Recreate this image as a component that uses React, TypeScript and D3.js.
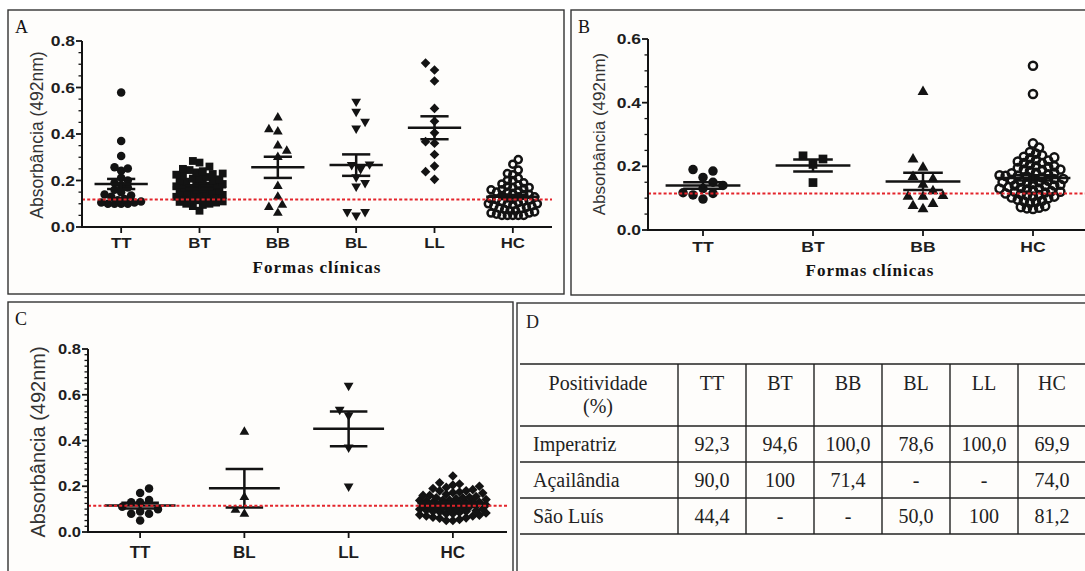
import * as d3 from 'd3'

// ---- Panel A: Formas clínicas (Imperatriz) ----
const catsA = ['TT', 'BT', 'BB', 'BL', 'LL', 'HC']
const shapesA = ['circle', 'square', 'triangle', 'triangleDown', 'diamond', 'ring']
const aTT = [0.578, 0.37, 0.305, 0.257, 0.242, 0.252, 0.212, 0.2, 0.19, 0.18, 0.17, 0.16, 0.15, 0.14, 0.135, 0.13, 0.12, 0.115, 0.11, 0.105, 0.1, 0.1, 0.1, 0.1, 0.105]
const aBT = [0.284, 0.277, 0.26, 0.25, 0.245, 0.24, 0.235, 0.23, 0.228, 0.225, 0.22, 0.215, 0.21, 0.208, 0.205, 0.2, 0.198, 0.195, 0.19, 0.188, 0.185, 0.18, 0.178, 0.175, 0.17, 0.168, 0.165, 0.16, 0.158, 0.155, 0.15, 0.148, 0.145, 0.14, 0.14, 0.138, 0.135, 0.13, 0.128, 0.125, 0.12, 0.118, 0.115, 0.11, 0.108, 0.105, 0.1, 0.1, 0.095, 0.09, 0.07]
const aBB = [0.47, 0.42, 0.41, 0.35, 0.327, 0.3, 0.176, 0.13, 0.095, 0.085, 0.06]
const aBL = [0.54, 0.496, 0.453, 0.424, 0.27, 0.267, 0.25, 0.215, 0.19, 0.175, 0.065, 0.05, 0.065]
const aLL = [0.705, 0.675, 0.628, 0.51, 0.455, 0.405, 0.367, 0.36, 0.312, 0.262, 0.238, 0.205]
const aHC = [0.29, 0.27, 0.245, 0.23, 0.225, 0.21, 0.2, 0.2, 0.19, 0.185, 0.18, 0.175, 0.17, 0.17, 0.165, 0.16, 0.16, 0.155, 0.15, 0.15, 0.145, 0.14, 0.14, 0.135, 0.13, 0.13, 0.125, 0.12, 0.12, 0.12, 0.115, 0.11, 0.11, 0.105, 0.1, 0.1, 0.1, 0.095, 0.09, 0.09, 0.085, 0.08, 0.08, 0.075, 0.07, 0.07, 0.065, 0.06, 0.06, 0.055, 0.05, 0.05, 0.05, 0.05, 0.05]

// ---- Panel B ----
const catsB = ['TT', 'BT', 'BB', 'HC']
const shapesB = ['circle', 'square', 'triangle', 'ring']
const bTT = [0.19, 0.185, 0.165, 0.15, 0.14, 0.13, 0.115, 0.11, 0.117, 0.097]
const bBT = [0.233, 0.223, 0.206, 0.149]
const bBB = [0.434, 0.222, 0.196, 0.167, 0.16, 0.143, 0.122, 0.105, 0.107, 0.105, 0.082, 0.076, 0.066]
const bHC = [0.516, 0.427, 0.272, 0.259, 0.245, 0.24, 0.235, 0.23, 0.228, 0.225, 0.22, 0.218, 0.215, 0.21, 0.21, 0.205, 0.2, 0.2, 0.198, 0.195, 0.19, 0.19, 0.188, 0.185, 0.18, 0.18, 0.178, 0.175, 0.172, 0.17, 0.17, 0.168, 0.165, 0.162, 0.16, 0.16, 0.158, 0.155, 0.152, 0.15, 0.15, 0.148, 0.145, 0.142, 0.14, 0.14, 0.138, 0.135, 0.132, 0.13, 0.13, 0.128, 0.125, 0.122, 0.12, 0.12, 0.118, 0.115, 0.112, 0.11, 0.108, 0.105, 0.105, 0.102, 0.1, 0.095, 0.092, 0.09, 0.088, 0.085, 0.075, 0.072, 0.07, 0.068, 0.066]

// ---- Panel C ----
const catsC = ['TT', 'BL', 'LL', 'HC']
const shapesC = ['circle', 'triangle', 'triangleDown', 'diamond']
const cTT = [0.19, 0.17, 0.14, 0.13, 0.13, 0.11, 0.1, 0.09, 0.08, 0.08, 0.05]
const cBL = [0.438, 0.152, 0.079, 0.096]
const cLL = [0.64, 0.535, 0.51, 0.37, 0.2]
const cHC = [0.245, 0.215, 0.21, 0.205, 0.2, 0.195, 0.19, 0.185, 0.18, 0.18, 0.175, 0.172, 0.17, 0.165, 0.16, 0.16, 0.155, 0.152, 0.15, 0.15, 0.145, 0.142, 0.14, 0.14, 0.138, 0.135, 0.132, 0.13, 0.13, 0.128, 0.125, 0.122, 0.12, 0.12, 0.118, 0.115, 0.113, 0.112, 0.11, 0.11, 0.108, 0.105, 0.103, 0.1, 0.1, 0.098, 0.095, 0.093, 0.09, 0.09, 0.088, 0.085, 0.083, 0.08, 0.08, 0.075, 0.073, 0.07, 0.07, 0.065, 0.062, 0.06, 0.055, 0.05, 0.05]

// cut-off (dotted red line)
const cutoffs = [0.118, 0.115, 0.115]

// ---- Panel D table ----
const tableHeader = ['Positividade', '(%)']
const tableCols = ['TT', 'BT', 'BB', 'BL', 'LL', 'HC']
const tableRows = ['Imperatriz', 'Açailândia', 'São Luís']
const tableValues = [
  ['92,3', '94,6', '100,0', '78,6', '100,0', '69,9'],
  ['90,0', '100', '71,4', '-', '-', '74,0'],
  ['44,4', '-', '-', '50,0', '100', '81,2']
]

const SANS = '"Liberation Sans", Arial, sans-serif'
const SERIF = '"Liberation Serif", "Times New Roman", serif'
const INK = '#131313'

// Prism-like column scatter: pack points sideways, overlap once the column is full
function swarm(values: number[], y: (v: number) => number, cx: number, d: number, maxHalf: number) {
  const pts = values.map(v => ({ v, py: y(v), dx: 0 })).sort((a, b) => a.v - b.v)
  const placed: { v: number; py: number; dx: number }[] = []
  const step = d / 2
  pts.forEach((p, i) => {
    let best = 0
    let bestScore = -1
    const signs = i % 2 ? [-1, 1] : [1, -1]
    outer: for (let k = 0; k * step <= maxHalf; k++) {
      for (const s of k === 0 ? [1] : signs) {
        const dx = s * k * step
        let minD = Infinity
        for (const q of placed) {
          const dd = Math.hypot(q.dx - dx, q.py - p.py)
          if (dd < minD) minD = dd
        }
        if (minD >= d) { best = dx; break outer }
        if (minD > bestScore) { bestScore = minD; best = dx }
      }
    }
    placed.push({ ...p, dx: best })
  })
  return placed.map(p => ({ x: cx + p.dx, y: p.py }))
}

function Marker({ shape, x, y, m }: { shape: string; x: number; y: number; m: number }) {
  if (shape === 'ring') {
    return <circle cx={x} cy={y} r={m / 2 - 0.7} fill="none" stroke={INK} strokeWidth={2.5} />
  }
  let type: any = d3.symbolCircle
  let area = Math.PI * (m / 2) ** 2
  let rot = 0
  if (shape === 'square') { type = d3.symbolSquare; area = (0.92 * m) ** 2 }
  if (shape === 'triangle' || shape === 'triangleDown') {
    type = d3.symbolTriangle
    area = 0.433 * (1.15 * m) ** 2
    if (shape === 'triangleDown') rot = 180
  }
  if (shape === 'diamond') { type = d3.symbolSquare; area = (0.8 * m) ** 2; rot = 45 }
  return <path d={d3.symbol(type, area)() || ''} transform={`translate(${x},${y}) rotate(${rot})`} fill={INK} />
}

interface PanelProps {
  box: [number, number, number, number]
  letter: string
  cats: string[]
  groups: number[][]
  shapes: string[]
  xRange: [number, number]
  axisEnd: number
  yMax: number
  yRange: [number, number]
  minorStep: number
  cutoff: number
  m: number
  tickFont: number
  tickSX: number
  catFont: number
  catSX: number
  catDy: number
  yLabel: [number, number, number]
  title?: number
}

function Panel(p: PanelProps) {
  const [bx0, by0, bx1, by1] = p.box
  const x = d3.scalePoint<string>().domain(p.cats).range(p.xRange).padding(0.5)
  const y = d3.scaleLinear().domain([0, p.yMax]).range(p.yRange)
  const axisX = p.xRange[0]
  const step = x.step()
  const majors = d3.range(0, p.yMax + 1e-9, 0.2)
  const minors = d3.range(0, p.yMax + 1e-9, p.minorStep).filter(v => Math.abs(v / 0.2 - Math.round(v / 0.2)) > 1e-6)
  const fmt = d3.format('.1f')
  return (
    <g>
      <rect x={bx0} y={by0} width={bx1 - bx0} height={by1 - by0} fill="#fefdfb" stroke="#333" strokeWidth={1.4} />
      <text x={bx0 + 7} y={by0 + 23} fontFamily={SERIF} fontSize={18} fill={INK}>{p.letter}</text>

      {/* points */}
      {p.groups.map((vals, gi) => {
        const ring = p.shapes[gi] === 'ring'
        const d = vals.length > 20 ? p.m * (ring ? 0.64 : 0.78) : p.m * 1.05
        const pts = swarm(vals, y, x(p.cats[gi]) || 0, d, step * 0.33)
        return pts.map((pt, i) => <Marker key={`${gi}-${i}`} shape={p.shapes[gi]} x={pt.x} y={pt.y} m={p.m} />)
      })}

      {/* mean ± SEM */}
      {p.groups.map((vals, gi) => {
        const cx = x(p.cats[gi]) || 0
        const mean = d3.mean(vals) || 0
        const sem = (d3.deviation(vals) || 0) / Math.sqrt(vals.length)
        const hw = step * 0.34
        const sw = step * 0.18
        return (
          <g key={`m${gi}`} stroke={INK} strokeWidth={2.5}>
            <line x1={cx - hw} x2={cx + hw} y1={y(mean)} y2={y(mean)} />
            <line x1={cx - sw} x2={cx + sw} y1={y(mean + sem)} y2={y(mean + sem)} />
            <line x1={cx - sw} x2={cx + sw} y1={y(mean - sem)} y2={y(mean - sem)} />
            <line x1={cx} x2={cx} y1={y(mean + sem)} y2={y(mean - sem)} />
          </g>
        )
      })}

      {/* cutoff */}
      <line x1={axisX} x2={p.axisEnd} y1={y(p.cutoff)} y2={y(p.cutoff)} stroke="#e3242b" strokeWidth={2} strokeDasharray="3 2.2" />

      {/* axes */}
      <line x1={axisX} x2={axisX} y1={y(0) + 1} y2={y(p.yMax)} stroke={INK} strokeWidth={2} />
      <line x1={axisX} x2={p.axisEnd} y1={y(0)} y2={y(0)} stroke={INK} strokeWidth={2} />
      {majors.map(v => (
        <g key={`t${v}`}>
          <line x1={axisX - 6} x2={axisX} y1={y(v)} y2={y(v)} stroke={INK} strokeWidth={1.8} />
          <text transform={`translate(${axisX - 7},${y(v)}) scale(${p.tickSX},1)`} dy="0.36em" textAnchor="end"
            fontFamily={SANS} fontWeight="bold" fontSize={p.tickFont} fill="#1e1e1e">{fmt(v)}</text>
        </g>
      ))}
      {minors.map(v => (
        <line key={`n${v}`} x1={axisX - 3.5} x2={axisX} y1={y(v)} y2={y(v)} stroke={INK} strokeWidth={1.3} />
      ))}
      {p.cats.map(c => (
        <g key={`c${c}`}>
          <line x1={x(c)} x2={x(c)} y1={y(0)} y2={y(0) + 6} stroke={INK} strokeWidth={1.8} />
          <text transform={`translate(${x(c)},${y(0) + p.catDy}) scale(${p.catSX},1)`} textAnchor="middle"
            fontFamily={SANS} fontWeight="bold" fontSize={p.catFont} fill="#1e1e1e">{c}</text>
        </g>
      ))}
      <text transform={`translate(${p.yLabel[0]},${p.yLabel[1]}) rotate(-90)`} dy="0.35em" textAnchor="middle"
        fontFamily={SANS} fontSize={p.yLabel[2]} fill="#333">Absorbância (492nm)</text>
      {p.title !== undefined && (
        <text x={(axisX + p.axisEnd) / 2} y={p.title} textAnchor="middle" fontFamily={SERIF} fontWeight="bold"
          fontSize={17} letterSpacing={1} fill={INK}>Formas clínicas</text>
      )}
    </g>
  )
}

function Table() {
  const left = 520
  const right = 1090
  const col = d3.scaleBand().domain(tableCols).range([678, 1086])
  const row = d3.scaleBand().domain(tableRows).range([426, 534])
  const top = 364
  const hLines = [top, ...tableRows.map(r => row(r) || 0), 534]
  return (
    <g fontFamily={SERIF} fontSize={20} fill="#222">
      <rect x={517} y={303} width={580} height={280} fill="#fefdfb" stroke="#333" strokeWidth={1.4} />
      <text x={526} y={328} fontSize={18}>D</text>
      {hLines.map((yy, i) => (
        <line key={`h${i}`} x1={left} x2={right} y1={yy} y2={yy} stroke="#222" strokeWidth={1.4} />
      ))}
      {tableCols.map(c => (
        <line key={`v${c}`} x1={col(c)} x2={col(c)} y1={top} y2={534} stroke="#222" strokeWidth={1.4} />
      ))}
      <text x={598} y={390} textAnchor="middle">{tableHeader[0]}</text>
      <text x={598} y={413} textAnchor="middle">{tableHeader[1]}</text>
      {tableCols.map(c => (
        <text key={`hc${c}`} x={(col(c) || 0) + col.bandwidth() / 2} y={390} textAnchor="middle">{c}</text>
      ))}
      {tableRows.map((r, ri) => (
        <g key={r}>
          <text x={533} y={(row(r) || 0) + 25}>{r}</text>
          {tableValues[ri].map((v, ci) => (
            <text key={ci} x={(col(tableCols[ci]) || 0) + col.bandwidth() / 2} y={(row(r) || 0) + 25} textAnchor="middle">{v}</text>
          ))}
        </g>
      ))}
    </g>
  )
}

export default function App() {
  return (
    <div style={{ position: 'fixed', left: 0, top: 0 }}>
      <svg width={1085} height={571} style={{ display: 'block', background: '#fff' }}>
        <Panel box={[8, 10, 564, 294]} letter="A" cats={catsA} groups={[aTT, aBT, aBB, aBL, aLL, aHC]} shapes={shapesA}
          xRange={[82, 552]} axisEnd={552} yMax={0.8} yRange={[227, 41]} minorStep={0.05} cutoff={cutoffs[0]} m={8.5}
          tickFont={14} tickSX={1.25} catFont={14} catSX={1.2} catDy={21} yLabel={[37, 135, 17.5]} title={273} />
        <Panel box={[571, 10, 1092, 295]} letter="B" cats={catsB} groups={[bTT, bBT, bBB, bHC]} shapes={shapesB}
          xRange={[648, 1088]} axisEnd={1092} yMax={0.6} yRange={[230, 39]} minorStep={0.05} cutoff={cutoffs[1]} m={9.5}
          tickFont={14} tickSX={1.25} catFont={14} catSX={1.25} catDy={22} yLabel={[599, 134, 17]} title={276} />
        <Panel box={[8, 302, 513, 580]} letter="C" cats={catsC} groups={[cTT, cBL, cLL, cHC]} shapes={shapesC}
          xRange={[88, 505]} axisEnd={507} yMax={0.8} yRange={[532, 349]} minorStep={0.025} cutoff={cutoffs[2]} m={8.5}
          tickFont={14} tickSX={1.18} catFont={17} catSX={1} catDy={26} yLabel={[38, 442, 20]} />
        <Table />
      </svg>
    </div>
  )
}
